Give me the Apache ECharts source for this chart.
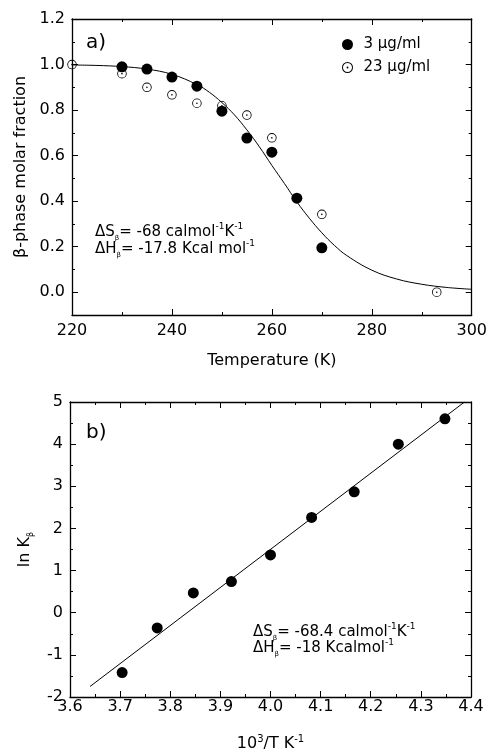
<!DOCTYPE html>
<html><head><meta charset="utf-8">
<script src="https://cdn.jsdelivr.net/npm/echarts@6/dist/echarts.min.js"></script>
<style>html,body{margin:0;padding:0;background:#fff}#c{width:490px;height:753px}</style>
</head><body><div id="c"></div>
<script>
// ---- data ----
const curveT = [220,225,230,235,240,245,247.5,250,252.5,255,257.5,260,262.5,265,267.5,270,272.5,275,280,285,290,295,300];
const curveF = [0.998,0.996,0.991,0.980,0.957,0.912,0.878,0.833,0.779,0.713,0.639,0.557,0.478,0.397,0.325,0.261,0.206,0.161,0.097,0.058,0.035,0.021,0.013];
const filledT = [230,235,240,245,250,255,260,265,270];
const filledF = [0.99,0.98,0.945,0.905,0.795,0.677,0.615,0.413,0.195];
const openT = [220,230,235,240,245,250,255,260,270,293];
const openF = [1.0,0.96,0.90,0.867,0.83,0.819,0.778,0.678,0.342,0.0];
const invT = [3.704,3.774,3.846,3.922,4.0,4.082,4.167,4.255,4.348];
const lnK = [-1.42,-0.36,0.47,0.74,1.37,2.26,2.87,4.0,4.6];
const fitX = [3.64,4.387];
const fitY = [-1.75,5.0];
const yTicksA = [0,0.2,0.4,0.6,0.8,1.0,1.2];
const yMinorA = [0.1,0.3,0.5,0.7,0.9,1.1];
const legendNames = ['3 \u03bcg/ml','23 \u03bcg/ml'];

const FONT = '"DejaVu Sans", "Liberation Sans", Arial, sans-serif';
const zip = (a,b) => a.map((v,i)=>[v,b[i]]);
const ringPath = 'path://M0,-10A10,10 0 1,1 0,10A10,10 0 1,1 0,-10Z M0,-8.2A8.2,8.2 0 1,0 0,8.2A8.2,8.2 0 1,0 0,-8.2Z M0,-1.7A1.7,1.7 0 1,1 0,1.7A1.7,1.7 0 1,1 0,-1.7Z';

const lineStyle = {color:'#000', width:1.3};
const tickStyle = {color:'#000', width:1};
function axisBase(extra){
  return Object.assign({
    type:'value',
    axisLine:{show:true, onZero:false, lineStyle},
    splitLine:{show:false},
    minorSplitLine:{show:false}
  }, extra);
}
const labelStyle = {color:'#000', fontSize:16, fontFamily:FONT};

const rich = {
  sub:{fontSize:7, fontFamily:FONT, color:'#000', padding:[13,0,0,0]},
  sup:{fontSize:9, fontFamily:FONT, color:'#000', padding:[0,0,10,0]}
};
function txt(x,y,s,size){
  return {type:'text', x:x, y:y, style:{text:s, rich:rich, fill:'#000', font: (size||15)+'px '+FONT, verticalAlign:'middle', align:'left'}};
}

const chart = echarts.init(document.getElementById('c'), null, {renderer:'canvas'});
chart.setOption({
  backgroundColor:'#fff',
  animation:false,
  grid:[
    {left:72, right:16, top:19, height:296},
    {left:70, right:19, top:402, height:295}
  ],
  legend:{
    show:true, orient:'vertical', left:337, top:32, itemGap:8,
    itemWidth:22, itemHeight:11,
    data:legendNames,
    textStyle:{color:'#000', fontSize:15, fontFamily:FONT}
  },
  xAxis:[
    axisBase({gridIndex:0, position:'bottom', min:220, max:300, interval:20,
      axisTick:{show:true, inside:true, length:6, lineStyle:tickStyle},
      minorTick:{show:true, splitNumber:2, length:3, lineStyle:tickStyle},
      axisLabel:Object.assign({show:true, margin:8, showMinLabel:true, showMaxLabel:true}, labelStyle),
      name:'Temperature (K)', nameLocation:'middle', nameGap:38,
      nameTextStyle:{color:'#000', fontSize:16, fontFamily:FONT}}),
    axisBase({gridIndex:0, position:'top', min:220, max:300, interval:20,
      axisTick:{show:true, inside:true, length:6, lineStyle:tickStyle},
      minorTick:{show:true, splitNumber:2, length:3, lineStyle:tickStyle},
      axisLabel:{show:false}}),
    axisBase({gridIndex:1, position:'bottom', min:3.6, max:4.4, interval:0.1,
      axisTick:{show:true, inside:true, length:6, lineStyle:tickStyle},
      minorTick:{show:true, splitNumber:2, length:3, lineStyle:tickStyle},
      axisLabel:Object.assign({show:true, margin:2, showMinLabel:true, showMaxLabel:true, formatter:v=>v.toFixed(1)}, labelStyle),
      name:'10{sup|3}/T K{sup|-1}', nameLocation:'middle', nameGap:37,
      nameTextStyle:{color:'#000', fontSize:16, fontFamily:FONT, rich:{sup:{fontSize:10, fontFamily:FONT, color:'#000', padding:[0,0,10,0]}}}}),
    axisBase({gridIndex:1, position:'top', min:3.6, max:4.4, interval:0.1,
      axisTick:{show:true, inside:true, length:6, lineStyle:tickStyle},
      minorTick:{show:true, splitNumber:2, length:3, lineStyle:tickStyle},
      axisLabel:{show:false}})
  ],
  yAxis:[
    axisBase({gridIndex:0, position:'left', min:-0.1, max:1.2, interval:0.1,
      axisTick:{show:true, inside:true, length:6, lineStyle:tickStyle, customValues:yTicksA},
      axisLabel:Object.assign({show:true, margin:7, customValues:yTicksA, formatter:v=>v.toFixed(1)}, labelStyle),
      name:'\u03b2-phase molar fraction', nameLocation:'middle', nameGap:35,
      nameTextStyle:{color:'#000', fontSize:16, fontFamily:FONT}}),
    axisBase({gridIndex:0, position:'left', min:-0.1, max:1.2, interval:0.2,
      axisLine:{show:false},
      axisTick:{show:true, inside:true, length:3, lineStyle:tickStyle, customValues:yMinorA},
      axisLabel:{show:false}}),
    axisBase({gridIndex:0, position:'right', min:-0.1, max:1.2, interval:0.1,
      axisTick:{show:true, inside:true, length:6, lineStyle:tickStyle, customValues:yTicksA},
      axisLabel:{show:false}}),
    axisBase({gridIndex:0, position:'right', min:-0.1, max:1.2, interval:0.2,
      axisLine:{show:false},
      axisTick:{show:true, inside:true, length:3, lineStyle:tickStyle, customValues:yMinorA},
      axisLabel:{show:false}}),
    axisBase({gridIndex:1, position:'left', min:-2, max:5, interval:1,
      axisTick:{show:true, inside:true, length:6, lineStyle:tickStyle},
      minorTick:{show:true, splitNumber:2, length:3, lineStyle:tickStyle},
      axisLabel:Object.assign({show:true, margin:7, showMinLabel:true, showMaxLabel:true}, labelStyle),
      name:'ln K{sub|\u03b2}', nameLocation:'middle', nameGap:35,
      nameTextStyle:{color:'#000', fontSize:16, fontFamily:FONT, rich:{sub:{fontSize:8, fontFamily:FONT, color:'#000', padding:[12,0,0,0]}}}}),
    axisBase({gridIndex:1, position:'right', min:-2, max:5, interval:1,
      axisTick:{show:true, inside:true, length:6, lineStyle:tickStyle},
      minorTick:{show:true, splitNumber:2, length:3, lineStyle:tickStyle},
      axisLabel:{show:false}})
  ],
  series:[
    {type:'line', name:'fit a', xAxisIndex:0, yAxisIndex:0, data:zip(curveT,curveF), smooth:0.4,
      showSymbol:false, symbol:'none', lineStyle:{color:'#000', width:1}, z:1, silent:true},
    {type:'scatter', name:legendNames[0], xAxisIndex:0, yAxisIndex:0, data:zip(filledT,filledF),
      symbol:'circle', symbolSize:11, itemStyle:{color:'#000', opacity:1}, z:3},
    {type:'scatter', name:legendNames[1], xAxisIndex:0, yAxisIndex:0, data:zip(openT,openF),
      symbol:ringPath, symbolSize:9.5, symbolKeepAspect:true, itemStyle:{color:'#000', opacity:1}, z:3},
    {type:'line', name:'fit b', xAxisIndex:2, yAxisIndex:4, data:zip(fitX,fitY),
      showSymbol:false, symbol:'none', lineStyle:{color:'#000', width:1}, z:1, silent:true},
    {type:'scatter', name:'lnK', xAxisIndex:2, yAxisIndex:4, data:zip(invT,lnK),
      symbol:'circle', symbolSize:11, itemStyle:{color:'#000', opacity:1}, z:3}
  ],
  graphic:[
    txt(86,43,'a)',20),
    txt(86,433,'b)',20),
    txt(95,232,'\u0394S{sub|\u03b2}= -68 calmol{sup|-1}K{sup|-1}'),
    txt(95,249,'\u0394H{sub|\u03b2}= -17.8 Kcal mol{sup|-1}'),
    txt(253,632,'\u0394S{sub|\u03b2}= -68.4 calmol{sup|-1}K{sup|-1}'),
    txt(253,648,'\u0394H{sub|\u03b2}= -18 Kcalmol{sup|-1}')
  ]
});
</script></body></html>
